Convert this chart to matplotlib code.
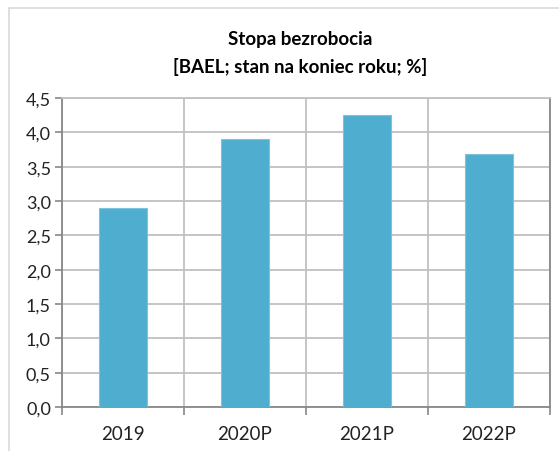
import matplotlib.pyplot as plt
from matplotlib.ticker import FuncFormatter, FixedLocator
import matplotlib.patches as mpatches

lata = ["2019", "2020P", "2021P", "2022P"]
stopa = [2.90, 3.90, 4.25, 3.68]
y_ticks = [0.0, 0.5, 1.0, 1.5, 2.0, 2.5, 3.0, 3.5, 4.0, 4.5]

plt.rcParams['font.family'] = ['Lato', 'DejaVu Sans']

fig = plt.figure(figsize=(5.59, 4.52), dpi=100)
ax = fig.add_axes([62/559, 44/452, 488/559, 309/452])

# ramka wokol wykresu
fig.patches.append(mpatches.Rectangle((9/559, -0.1), 1.2, (443/452) + 0.1, transform=fig.transFigure,
                                      fill=False, edgecolor='#d9d9d9', linewidth=1.2))

x = range(len(lata))
ax.bar(x, stopa, width=0.4, color='#4FADCF', edgecolor='#7CC4DD', linewidth=0.8, zorder=3)

ax.set_xlim(-0.5, 3.5)
ax.set_ylim(0, 4.5)
ax.set_yticks(y_ticks)
ax.yaxis.set_major_formatter(FuncFormatter(lambda v, p: f"{v:.1f}".replace('.', ',')))
ax.set_xticks(list(x))
ax.set_xticklabels(lata)
ax.xaxis.set_minor_locator(FixedLocator([-0.5, 0.5, 1.5, 2.5, 3.5]))

ax.grid(axis='y', color='#c0c0c0', linewidth=1.3, zorder=0)
ax.grid(axis='x', which='minor', color='#c0c0c0', linewidth=1.3, zorder=0)
ax.tick_params(axis='x', which='major', length=0, pad=13, labelsize=13.5, colors='#222222')
ax.tick_params(axis='x', which='minor', length=6, width=1.2, color='#888888')
ax.tick_params(axis='y', length=5, width=1.2, color='#888888', labelsize=13, labelcolor='#222222', pad=3)

for s in ['left', 'bottom', 'right']:
    ax.spines[s].set_color('#888888')
    ax.spines[s].set_linewidth(1.3)
ax.spines['top'].set_color('#c0c0c0')
ax.spines['top'].set_linewidth(1.3)

fig.text(300/559, 1 - 40/452, "Stopa bezrobocia", ha='center', va='center', fontsize=13.5, fontweight='bold')
fig.text(300/559, 1 - 67/452, "[BAEL; stan na koniec roku; %]", ha='center', va='center', fontsize=13.5, fontweight='bold')

fig.savefig('out.png', dpi=100)
